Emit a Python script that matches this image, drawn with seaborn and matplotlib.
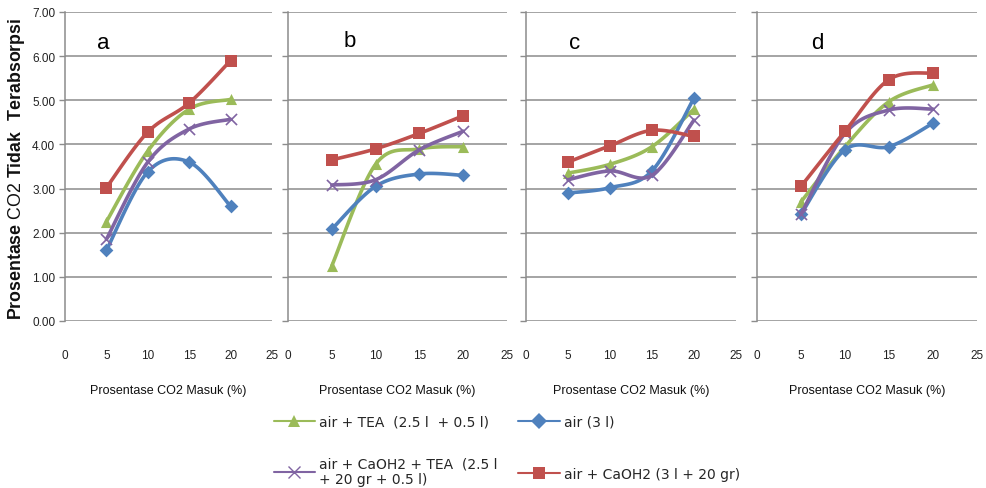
import numpy as np
import pandas as pd
import matplotlib
matplotlib.use("Agg")
import matplotlib.pyplot as plt
import seaborn as sns
from matplotlib.lines import Line2D

# ---------------- data ----------------
x_vals = [5, 10, 15, 20]
panels = ["a", "b", "c", "d"]
x_ticks = [0, 5, 10, 15, 20, 25]
y_ticks = [0, 1, 2, 3, 4, 5, 6, 7]

series_names = [
    "air + TEA  (2.5 l  + 0.5 l)",
    "air (3 l)",
    "air + CaOH2 + TEA  (2.5 l\n+ 20 gr + 0.5 l)",
    "air + CaOH2 (3 l + 20 gr)",
]

# panel a
a_tea = [2.25, 3.85, 4.80, 5.02]
a_air = [1.60, 3.38, 3.60, 2.60]
a_caoh_tea = [1.85, 3.60, 4.35, 4.57]
a_caoh = [3.02, 4.28, 4.94, 5.90]
# panel b
b_tea = [1.25, 3.55, 3.90, 3.95]
b_air = [2.08, 3.05, 3.33, 3.30]
b_caoh_tea = [3.08, 3.20, 3.88, 4.30]
b_caoh = [3.65, 3.90, 4.25, 4.65]
# panel c
c_tea = [3.35, 3.55, 3.95, 4.80]
c_air = [2.90, 3.02, 3.40, 5.05]
c_caoh_tea = [3.20, 3.40, 3.30, 4.55]
c_caoh = [3.60, 3.97, 4.32, 4.18]
# panel d
d_tea = [2.70, 3.95, 4.97, 5.35]
d_air = [2.42, 3.88, 3.95, 4.48]
d_caoh_tea = [2.42, 4.25, 4.78, 4.80]
d_caoh = [3.05, 4.30, 5.47, 5.62]

panel_data = {
    "a": [a_tea, a_air, a_caoh_tea, a_caoh],
    "b": [b_tea, b_air, b_caoh_tea, b_caoh],
    "c": [c_tea, c_air, c_caoh_tea, c_caoh],
    "d": [d_tea, d_air, d_caoh_tea, d_caoh],
}

# ---------------- style ----------------
colors = ["#9BBB59", "#4F81BD", "#8064A2", "#C0504D"]
markers = ["^", "D", "x", "s"]
msizes = [8, 7, 8, 8]

sns.set_theme(style="white")
plt.rcParams["font.family"] = ["Liberation Sans", "DejaVu Sans"]
plt.rcParams["mathtext.fontset"] = "custom"
plt.rcParams["mathtext.rm"] = "Liberation Sans"
plt.rcParams["mathtext.bf"] = "Liberation Sans:bold"

narrow = ["Liberation Sans Narrow", "Liberation Sans", "DejaVu Sans"]


def smooth(xs, ys, n=30):
    """Excel-like smoothed line (Catmull-Rom Bezier) through the data points."""
    P = np.column_stack([xs, ys]).astype(float)
    out = []
    m = len(P)
    for i in range(m - 1):
        p0 = P[i - 1] if i > 0 else P[i]
        p1 = P[i]
        p2 = P[i + 1]
        p3 = P[i + 2] if i + 2 < m else P[i + 1]
        b1 = p1 + (p2 - p0) / 6.0
        b2 = p2 - (p3 - p1) / 6.0
        t = np.linspace(0, 1, n)[:, None]
        seg = ((1 - t) ** 3) * p1 + 3 * ((1 - t) ** 2) * t * b1 + 3 * (1 - t) * t ** 2 * b2 + t ** 3 * p2
        out.append(seg if i == 0 else seg[1:])
    return np.vstack(out)


W, H = 987, 489
fig = plt.figure(figsize=(W / 100, H / 100), dpi=100)

ax_px = {"a": (65, 272), "b": (288, 507), "c": (526, 736), "d": (757, 977)}
label_pos = {"a": (4.6, 6.3), "b": (7.0, 6.35), "c": (5.8, 6.3), "d": (6.8, 6.3)}
top_px, bot_px = 13, 322

grid_col = "#8C8C8C"

for p in panels:
    l, r = ax_px[p]
    ax = fig.add_axes([l / W, 1 - bot_px / H, (r - l) / W, (bot_px - top_px) / H])
    ax.set_xlim(0, 25)
    ax.set_ylim(0, 7)
    for yv in y_ticks:
        ax.axhline(yv, color=grid_col, lw=1.1, zorder=0)
    for k, ys in enumerate(panel_data[p]):
        curve = smooth(x_vals, ys)
        df = pd.DataFrame({"x": curve[:, 0], "y": curve[:, 1]})
        sns.lineplot(data=df, x="x", y="y", ax=ax, color=colors[k], lw=2.6,
                     sort=False, estimator=None, zorder=2 + k)
        dfp = pd.DataFrame({"x": x_vals, "y": ys})
        if markers[k] == "x":
            sns.scatterplot(data=dfp, x="x", y="y", ax=ax, marker="x", color=colors[k],
                            s=msizes[k] ** 2, linewidth=1.2, zorder=3 + k)
        else:
            sns.scatterplot(data=dfp, x="x", y="y", ax=ax, marker=markers[k], color=colors[k],
                            s=msizes[k] ** 2, linewidth=0, zorder=3 + k)
    ax.set_xticks(x_ticks)
    ax.set_xticklabels([str(v) for v in x_ticks], fontfamily=narrow, fontsize=8.5)
    ax.tick_params(axis="x", length=0, pad=20, colors="#222222")
    ax.set_yticks(y_ticks)
    if p == "a":
        ax.set_yticklabels([f"{v:.2f}" for v in y_ticks], fontfamily=narrow, fontsize=8.5)
    else:
        ax.set_yticklabels([])
    ax.tick_params(axis="y", length=4, width=1, pad=3, left=True, colors="#222222")
    ax.tick_params(axis="y", color=grid_col)
    for s in ["top", "right", "bottom"]:
        ax.spines[s].set_visible(False)
    ax.spines["left"].set_color(grid_col)
    ax.spines["left"].set_linewidth(1.1)
    ax.set_ylabel("")
    ax.set_xlabel("Prosentase CO2 Masuk (%)", fontfamily=narrow, fontsize=9,
                  labelpad=17, color="#111111")
    lx, ly = label_pos[p]
    ax.text(lx, ly, p, fontsize=16, color="black", ha="center", va="center",
            fontfamily=["Liberation Sans", "DejaVu Sans"])

ylab = fig.text(17 / W, 1 - 169 / H,
                r"$\mathbf{Prosentase}$ CO2 $\mathbf{Tidak\ \ Terabsorpsi}$",
                rotation=90, ha="center", va="center", fontsize=11, color="#111111")
# fit the y label to the same length as in the reference (about 302 px)
fig.canvas.draw()
bb = ylab.get_window_extent(renderer=fig.canvas.get_renderer())
ylab.set_fontsize(11 * 302.0 / bb.height)


def make_handle(k):
    if markers[k] == "x":
        return Line2D([], [], color=colors[k], lw=1.5, marker="x", markersize=8, markeredgewidth=1.0)
    return Line2D([], [], color=colors[k], lw=1.5, marker=markers[k], markersize=msizes[k] + 1,
                  markeredgewidth=0)


leg_prop = {"family": ["DejaVu Sans"], "size": 10}
leg1 = fig.legend([make_handle(0), make_handle(2)], [series_names[0], series_names[2]],
                  loc="upper left", bbox_to_anchor=(261 / W, 1 - 403 / H), frameon=False,
                  prop=leg_prop, handlelength=3.0, handletextpad=0.3, labelspacing=2.0)
leg2 = fig.legend([make_handle(1), make_handle(3)], [series_names[1], series_names[3]],
                  loc="upper left", bbox_to_anchor=(506 / W, 1 - 403 / H), frameon=False,
                  prop=leg_prop, handlelength=3.0, handletextpad=0.3, labelspacing=2.75)

fig.savefig("out.png", dpi=100)
